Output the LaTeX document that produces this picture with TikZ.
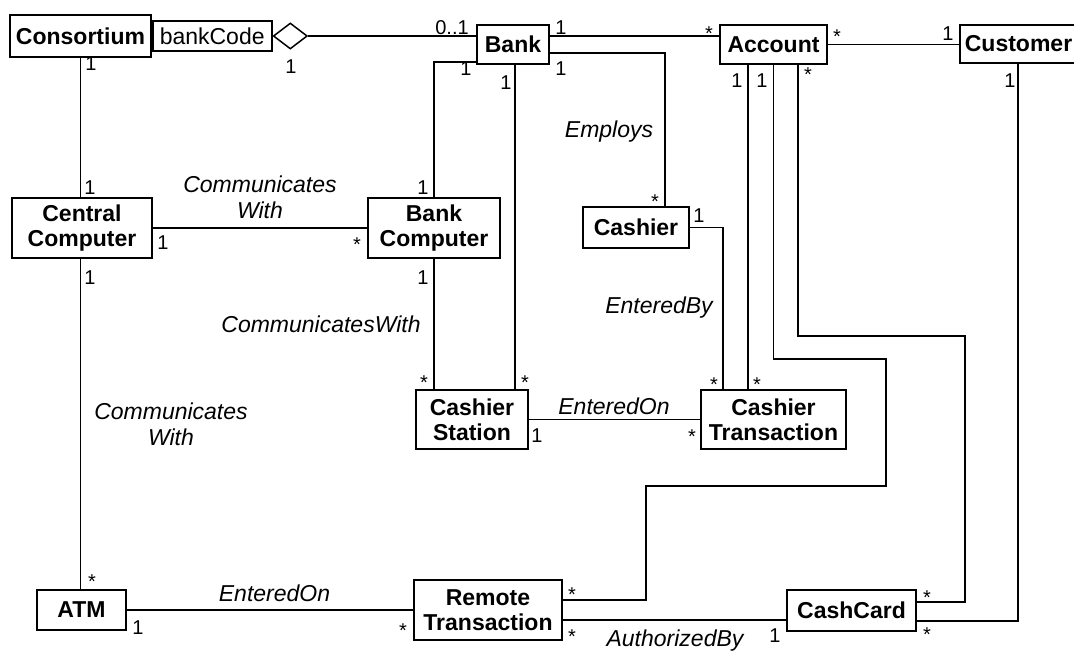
\documentclass[tikz,border=0pt]{standalone}
\usepackage{fontspec}
\newfontfamily\arial{Liberation Sans}
\usetikzlibrary{shapes.geometric}

\begin{document}
\begin{tikzpicture}[x=1pt, y=-1pt,
    every node/.style={inner sep=0pt},
    cls/.style={draw, line width=1.7pt, align=center,
        font=\arial\bfseries\fontsize{23}{25}\selectfont},
    attr/.style={draw, line width=1.7pt, font=\arial\fontsize{23}{25}\selectfont},
    mult/.style={anchor=base, font=\arial\fontsize{20}{22}\selectfont},
    assoc/.style={anchor=base, align=center,
        font=\arial\itshape\fontsize{23}{26}\selectfont},
    conn/.style={line width=1.5pt}]
    \useasboundingbox (0,0) rectangle (1074,651);

    % classes
    \node[cls, minimum width=141pt, minimum height=42pt] (consortium) at (80.5,36) {Consortium};
    \node[attr, minimum width=119pt, minimum height=30pt, anchor=west] (bankcode) at (consortium.east) {bankCode};
    \node[diamond, draw, line width=1.5pt, fill=white, minimum width=34pt, minimum height=26pt, anchor=west] (agg) at (bankcode.east) {};
    \node[cls, minimum width=72pt, minimum height=39pt] (bank) at (513,44.5) {Bank};
    \node[cls, minimum width=107pt, minimum height=39pt] (account) at (773.5,44.5) {Account};
    \node[cls, text width=115pt, align=left, inner xsep=5pt, minimum height=38pt, anchor=west] (customer) at (959,44) {Customer};
    \node[cls, minimum width=140pt, minimum height=60pt] (cc) at (82,228) {Central\\Computer};
    \node[cls, minimum width=132pt, minimum height=60pt] (bc) at (434,228) {Bank\\Computer};
    \node[cls, minimum width=106pt, minimum height=41pt] (cashier) at (636,227.5) {Cashier};
    \node[cls, minimum width=112pt, minimum height=59pt] (cs) at (472,419.5) {Cashier\\Station};
    \node[cls, minimum width=145pt, minimum height=59pt] (ct) at (773.5,419.5) {Cashier\\Transaction};
    \node[cls, minimum width=89pt, minimum height=40pt] (atm) at (81.5,610) {ATM};
    \node[cls, minimum width=148pt, minimum height=60pt] (rt) at (488,610) {Remote\\Transaction};
    \node[cls, minimum width=129pt, minimum height=41pt] (cashcard) at (851.5,610.5) {CashCard};

    % associations
    \draw[conn] (agg.east) -- (bank.west |- agg.east);
    \draw[conn] (bank.east |- agg.east) -- (account.west |- agg.east);
    \draw[conn] ([yshift=-8.5pt]bank.east) -| ([xshift=29pt]cashier.north);
    \draw[conn] ([yshift=-17.5pt]bank.west) -| (bc.north);
    \coordinate (bs) at ([xshift=2pt]bank.south);
    \draw[conn] (bs) -- (bs |- cs.north);
    \draw[conn] (consortium.south) -- (consortium.south |- cc.north);
    \draw[conn] (consortium.south |- cc.south) -- (consortium.south |- atm.north);
    \draw[conn] (cc.east) -- (bc.west);
    \draw[conn] (bc.south) -- (bc.south |- cs.north);
    \draw[conn] (account.east) -- (customer.west |- account.east);
    \draw[conn] (cashier.east) -| ([xshift=-50.5pt]ct.north);
    \draw[conn] ([xshift=-25.5pt]account.south) -- ([xshift=-25.5pt]ct.north);
    \draw[conn] (cs.east) -- (ct.west);
    \draw[conn] (account.south) |- (886,359) |- (646,486) |- ([yshift=10pt]rt.east);
    \draw[conn] ([xshift=24.5pt]account.south) |- (965,336) |- ([yshift=8.5pt]cashcard.east);
    \draw[conn] ([xshift=59pt]customer.south west) |- ([yshift=-10.5pt]cashcard.east);
    \draw[conn] (atm.east) -- (rt.west |- atm.east);
    \draw[conn] ([yshift=-10pt]rt.east) -- (cashcard.west |- 0,620);

    % multiplicities
    \node[mult] (m-agg-bank) at (452,34) {0..1};
    \node[mult] (m-agg-cons) at (291,73) {1};
    \node[mult] (m-bank-acc) at (561,34) {1};
    \node[mult] (m-acc-bank) at (709,40) {*};
    \node[mult] (m-bank-cas) at (561,75) {1};
    \node[mult] (m-cas-bank) at (655,208) {*};
    \node[mult] (m-bank-bc) at (466,75) {1};
    \node[mult] (m-bc-bank) at (423,194) {1};
    \node[mult] (m-bank-cs) at (506,89) {1};
    \node[mult] (m-cs-bank) at (525,389) {*};
    \node[mult] (m-cons-cc) at (91,70) {1};
    \node[mult] (m-cc-cons) at (90,194) {1};
    \node[mult] (m-cc-atm) at (90,284) {1};
    \node[mult] (m-atm-cc) at (92,588) {*};
    \node[mult] (m-cc-bc) at (163,249) {1};
    \node[mult] (m-bc-cc) at (357,251) {*};
    \node[mult] (m-bc-cs) at (423,284) {1};
    \node[mult] (m-cs-bc) at (424,389) {*};
    \node[mult] (m-acc-cust) at (837,43) {*};
    \node[mult] (m-cust-acc) at (948,40) {1};
    \node[mult] (m-cas-ct) at (699,222) {1};
    \node[mult] (m-ct-cas) at (714,391) {*};
    \node[mult] (m-acc-ct) at (737,87) {1};
    \node[mult] (m-ct-acc) at (757,391) {*};
    \node[mult] (m-cs-ct) at (537,442) {1};
    \node[mult] (m-ct-cs) at (692,443) {*};
    \node[mult] (m-acc-rt) at (762,87) {1};
    \node[mult] (m-rt-acc) at (572,601) {*};
    \node[mult] (m-acc-card) at (808,81) {*};
    \node[mult] (m-card-acc) at (927,604) {*};
    \node[mult] (m-cust-card) at (1010,87) {1};
    \node[mult] (m-card-cust) at (927,641) {*};
    \node[mult] (m-atm-rt) at (138,634) {1};
    \node[mult] (m-rt-atm) at (403,637) {*};
    \node[mult] (m-rt-card) at (572,643) {*};
    \node[mult] (m-card-rt) at (775,642) {1};

    % association names
    \node[assoc, anchor=north] (n-cc-bc) at (260,176) {Communicates\\With};
    \node[assoc, anchor=north] (n-cc-atm) at (171,403) {Communicates\\With};
    \node[assoc] (n-bc-cs) at (321,332) {CommunicatesWith};
    \node[assoc] (n-employs) at (609,137) {Employs};
    \node[assoc] (n-enteredby) at (659,313) {EnteredBy};
    \node[assoc] (n-cs-ct) at (614,414) {EnteredOn};
    \node[assoc] (n-atm-rt) at (274.5,601) {EnteredOn};
    \node[assoc] (n-rt-card) at (675,646) {AuthorizedBy};
\end{tikzpicture}
\end{document}
